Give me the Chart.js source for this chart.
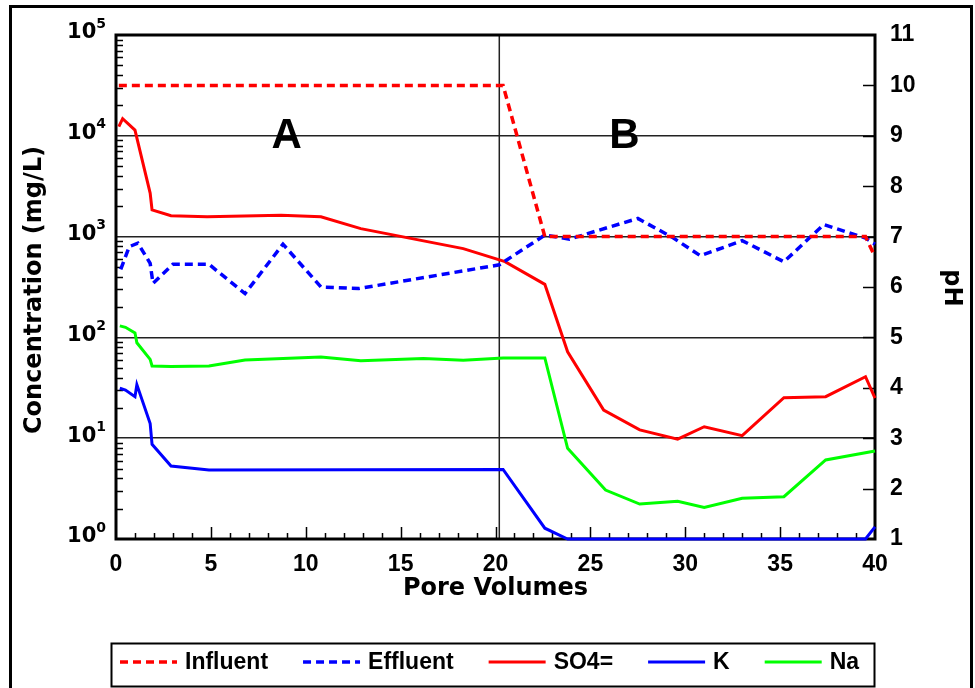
<!DOCTYPE html>
<html lang="en">
<head>
<meta charset="UTF-8">
<title>Concentration and pH vs Pore Volumes</title>
<script src="https://cdn.jsdelivr.net/npm/chart.js"></script>
<style>
  body { margin: 0; background: #fff; }
  canvas { display: block; }
</style>
</head>
<body>
<canvas id="chart" width="975" height="688"></canvas>
<script>
// pH series (right axis)
const influentPV = [0.15, 20.4, 22.6, 39.5, 40];
const influentPH = [10, 10, 7, 7, 6.6];
const effluentPV = [0.25, 0.7, 1.15, 1.8, 1.95, 3.0, 4.9, 6.8, 8.8, 10.8, 12.8, 20.2, 22.6, 23.9, 27.5, 29.3, 30.8, 33.0, 35.2, 37.3, 39.5, 40];
const effluentPH = [6.35, 6.8, 6.87, 6.47, 6.07, 6.45, 6.45, 5.87, 6.85, 6.0, 5.97, 6.44, 7.03, 6.95, 7.36, 6.99, 6.62, 6.92, 6.5, 7.24, 6.97, 6.85];

// concentration series (left axis, mg/L)
const so4PV = [0.15, 0.35, 1.0, 1.8, 1.9, 2.9, 4.8, 8.7, 10.8, 12.9, 18.3, 20.5, 22.6, 23.8, 25.7, 27.6, 29.6, 31.0, 33.0, 35.2, 37.4, 39.5, 40];
const so4Conc = [12300, 14800, 11400, 2700, 1840, 1610, 1575, 1625, 1575, 1200, 760, 564, 336, 72, 19, 12.1, 9.8, 13, 10.6, 25.2, 25.8, 40.7, 25];
const kPV = [0.2, 0.5, 1.0, 1.1, 1.8, 1.9, 2.9, 4.9, 20.4, 22.6, 23.8, 39.5, 40];
const kConc = [31.3, 30, 25.8, 34, 14, 8.7, 5.3, 4.85, 4.9, 1.28, 1.0, 1.0, 1.32];
const naPV = [0.2, 0.5, 1.0, 1.1, 1.8, 1.9, 2.9, 4.9, 6.8, 10.8, 12.9, 16.2, 18.3, 20.4, 22.6, 23.8, 25.8, 27.6, 29.6, 31.0, 33.0, 35.2, 37.4, 40];
const naConc = [130, 126, 111, 88.5, 60.6, 52, 51.4, 52, 59.7, 64, 58.8, 61.6, 59.4, 62.5, 62.5, 7.94, 3.06, 2.22, 2.37, 2.06, 2.53, 2.63, 6.08, 7.46];

// axis ticks and annotations
const concTicks = [1, 10, 100, 1000, 10000, 100000];
const concExponents = ['0', '1', '2', '3', '4', '5'];
const regionNames = ['A', 'B'];
const regionPV = [9, 26.8];
const boundaryPV = 20.2;

const pts = (xs, ys) => xs.map((x, i) => ({ x: x, y: ys[i] }));

const TITLE_FONT = 'bold 24px "DejaVu Sans", sans-serif';

const decorPlugin = {
    id: 'decor',
    beforeDatasetsDraw(chart) {
        const ctx = chart.ctx, a = chart.chartArea;
        const xs = chart.scales.x, ys = chart.scales.y, y2 = chart.scales.y2;
        ctx.save();
        ctx.strokeStyle = '#000';

        // boundary between the two stages
        const bx = xs.getPixelForValue(boundaryPV);
        ctx.strokeStyle = '#222';
        ctx.lineWidth = 1.5;
        ctx.beginPath();
        ctx.moveTo(bx, a.top);
        ctx.lineTo(bx, a.bottom);
        ctx.stroke();

        // plot frame
        ctx.strokeStyle = '#000';
        ctx.lineWidth = 3;
        ctx.strokeRect(a.left, a.top, a.right - a.left, a.bottom - a.top);

        // inward tick marks
        ctx.lineWidth = 1.5;
        ctx.beginPath();
        for (let d = 1; d < 100000; d *= 10) {
            for (let m = 2; m <= 9; m++) {
                const y = Math.round(ys.getPixelForValue(d * m)) + 0.5;
                ctx.moveTo(a.left, y);
                ctx.lineTo(a.left + 7, y);
            }
        }
        for (let v = 2; v <= 10; v++) {
            const y = Math.round(y2.getPixelForValue(v)) + 0.5;
            ctx.moveTo(a.right - 12, y);
            ctx.lineTo(a.right, y);
        }
        for (let v = 1; v < 40; v++) {
            const x = Math.round(xs.getPixelForValue(v)) + 0.5;
            ctx.moveTo(x, a.bottom);
            ctx.lineTo(x, a.bottom - (v % 5 === 0 ? 12 : 6));
        }
        ctx.stroke();
        ctx.restore();
    },
    afterDraw(chart) {
        const ctx = chart.ctx, a = chart.chartArea;
        const xs = chart.scales.x, ys = chart.scales.y;
        ctx.save();

        // outer frame
        ctx.strokeStyle = '#000';
        ctx.lineWidth = 3;
        ctx.strokeRect(10.5, 6.5, 961, 720);

        // left tick labels with superscript exponents
        ctx.fillStyle = '#000';
        ctx.textBaseline = 'middle';
        concTicks.forEach((v, i) => {
            const y = ys.getPixelForValue(v) - 2;
            ctx.font = 'bold 14px "DejaVu Sans", sans-serif';
            ctx.textAlign = 'right';
            const ew = ctx.measureText(concExponents[i]).width;
            ctx.fillText(concExponents[i], a.left - 10, y - 9);
            ctx.font = 'bold 21px "DejaVu Sans", sans-serif';
            ctx.fillText('10', a.left - 10 - ew, y);
        });

        // stage labels
        ctx.font = 'bold 42px "Liberation Sans", Arial, sans-serif';
        ctx.textAlign = 'center';
        ctx.textBaseline = 'alphabetic';
        regionNames.forEach((t, i) => {
            ctx.fillText(t, xs.getPixelForValue(regionPV[i]), ys.getPixelForValue(10000) + 12);
        });

        // axis titles
        ctx.font = TITLE_FONT;
        ctx.textAlign = 'center';
        ctx.textBaseline = 'middle';
        ctx.fillText('Pore Volumes', (a.left + a.right) / 2, 589);
        ctx.save();
        ctx.translate(35, (a.top + a.bottom) / 2 + 3);
        ctx.rotate(-Math.PI / 2);
        ctx.fillText('Concentration (mg/L)', 0, 0);
        ctx.restore();
        ctx.save();
        ctx.translate(951, 288);
        ctx.rotate(Math.PI / 2);
        ctx.fillText('pH', 0, 0);
        ctx.restore();

        // legend
        const lx = 111, ly = 643;
        ctx.lineWidth = 2;
        ctx.strokeStyle = '#000';
        ctx.strokeRect(lx + 0.5, ly + 0.5, 763, 43);
        ctx.font = 'bold 23px "Liberation Sans", Arial, sans-serif';
        ctx.textAlign = 'left';
        ctx.textBaseline = 'middle';
        let x = 120;
        const yl = 662;
        chart.data.datasets.forEach(ds => {
            ctx.save();
            ctx.strokeStyle = ds.borderColor;
            ctx.lineWidth = ds.borderWidth;
            ctx.setLineDash(ds.borderDash || []);
            ctx.beginPath();
            ctx.moveTo(x, yl);
            ctx.lineTo(x + 57, yl);
            ctx.stroke();
            ctx.restore();
            ctx.fillStyle = '#000';
            ctx.fillText(ds.label, x + 65, yl + 1);
            x += 65 + ctx.measureText(ds.label).width + 35;
        });

        ctx.restore();
    }
};

new Chart(document.getElementById('chart'), {
    type: 'line',
    data: {
        datasets: [
            { label: 'Influent', data: pts(influentPV, influentPH), yAxisID: 'y2',
              borderColor: '#ff0000', borderWidth: 3.5, borderDash: [8, 5] },
            { label: 'Effluent', data: pts(effluentPV, effluentPH), yAxisID: 'y2',
              borderColor: '#0000ff', borderWidth: 3.5, borderDash: [8, 5] },
            { label: 'SO4=', data: pts(so4PV, so4Conc), yAxisID: 'y',
              borderColor: '#ff0000', borderWidth: 3 },
            { label: 'K', data: pts(kPV, kConc), yAxisID: 'y',
              borderColor: '#0000ff', borderWidth: 3 },
            { label: 'Na', data: pts(naPV, naConc), yAxisID: 'y',
              borderColor: '#00ff00', borderWidth: 3 }
        ]
    },
    options: {
        responsive: false,
        animation: false,
        layout: { padding: { top: 35, left: 0, right: 0, bottom: 0 } },
        elements: { point: { radius: 0 }, line: { tension: 0 } },
        datasets: { line: { clip: false } },
        plugins: { legend: { display: false }, tooltip: { enabled: false } },
        scales: {
            x: {
                type: 'linear', min: 0, max: 40,
                ticks: { stepSize: 5, color: '#000', font: { family: '"Liberation Sans", Arial, sans-serif', size: 23, weight: 'bold' }, padding: 12, maxRotation: 0 },
                grid: { display: false, drawTicks: false },
                border: { display: false },
                afterFit: s => { s.height = 149; }
            },
            y: {
                type: 'logarithmic', position: 'left', min: 1, max: 100000,
                ticks: { display: false },
                afterBuildTicks: s => { s.ticks = concTicks.map(v => ({ value: v })); },
                grid: { color: '#222', lineWidth: 1.5, drawTicks: false },
                border: { display: false },
                afterFit: s => { s.width = 116; }
            },
            y2: {
                type: 'linear', position: 'right', min: 1, max: 11,
                ticks: { stepSize: 1, color: '#000', font: { family: '"Liberation Sans", Arial, sans-serif', size: 23, weight: 'bold' }, padding: 15 },
                grid: { drawOnChartArea: false, drawTicks: false },
                border: { display: false },
                afterFit: s => { s.width = 100; }
            }
        }
    },
    plugins: [decorPlugin]
});
</script>
</body>
</html>
